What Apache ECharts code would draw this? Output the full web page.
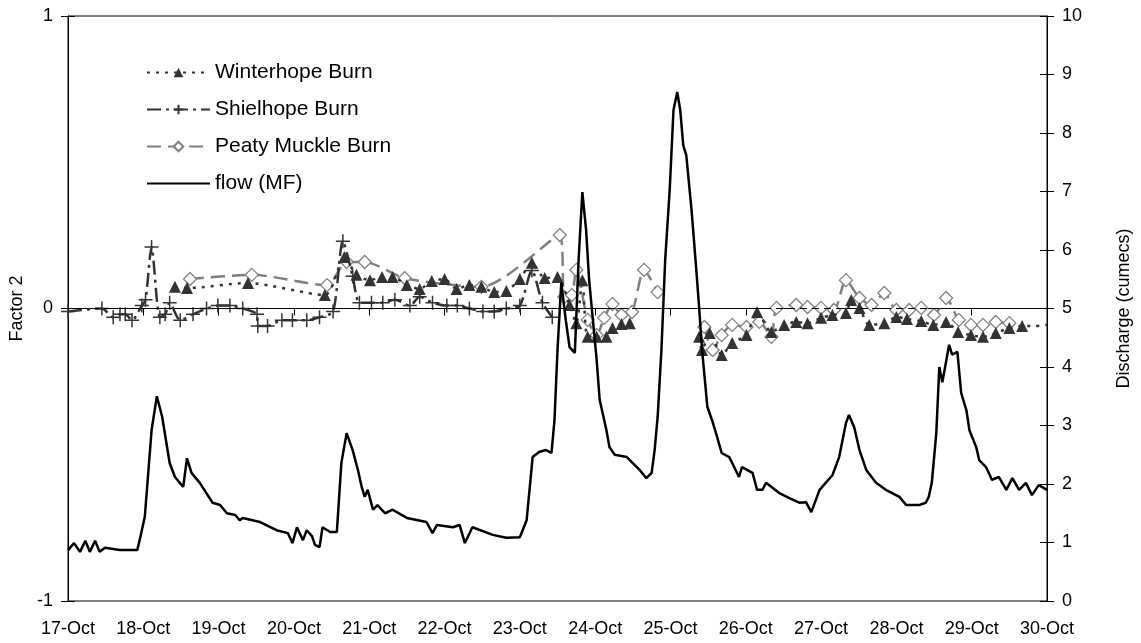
<!DOCTYPE html>
<html>
<head>
<meta charset="utf-8">
<script src="https://cdn.jsdelivr.net/npm/echarts@6/dist/echarts.min.js"></script>
<style>
html,body{margin:0;padding:0;background:#fff;}
#chart{width:1141px;height:643px;}
</style>
</head>
<body>
<div id="chart"></div>
<script>
// Tick labels
var xLabels = ['17-Oct','18-Oct','19-Oct','20-Oct','21-Oct','22-Oct','23-Oct','24-Oct','25-Oct','26-Oct','27-Oct','28-Oct','29-Oct','30-Oct'];

// Time in days since 17-Oct 00:00; null = gap in the line
var winterDays = [1.42,1.58,2.39,3.41,3.67,3.83,4.01,4.17,4.31,4.50,4.67,4.83,5.00,5.16,5.33,5.49,5.66,5.82,6.00,6.16,6.33,6.50,6.66,6.75,6.83,6.90,7.02,7.15,7.23,7.35,7.46,8.00,8.38,8.42,8.52,8.68,8.82,9.01,9.15,9.34,9.51,9.67,9.82,10.00,10.15,10.33,10.40,10.51,10.64,10.84,11.00,11.14,11.33,11.49,11.66,11.82,11.99,12.15,12.32,12.50,12.67,12.83,13.00];
var winterVals = [0.074,0.070,0.087,0.046,0.176,0.115,0.097,0.108,0.108,0.080,0.067,0.094,0.101,0.067,0.080,0.074,0.056,0.060,0.101,0.156,0.104,0.108,0.012,-0.050,0.097,-0.097,-0.097,-0.097,-0.067,-0.053,-0.050,null,-0.097,-0.142,-0.084,-0.159,-0.118,-0.091,-0.012,-0.080,-0.056,-0.046,-0.050,-0.032,-0.022,-0.015,0.029,0.002,-0.056,-0.050,-0.029,-0.036,-0.043,-0.056,-0.046,-0.080,-0.091,-0.097,-0.084,-0.067,-0.060,-0.060,-0.056];
var winterMarked = 60; // points after this index are trend only (no marker)

var shielDays = [0.00,0.45,0.60,0.69,0.76,0.85,0.98,1.03,1.11,1.22,1.29,1.35,1.49,1.66,1.84,1.99,2.15,2.32,2.51,2.52,2.65,2.84,2.98,3.17,3.34,3.52,3.65,3.78,3.87,4.03,4.18,4.34,4.54,4.67,4.84,5.03,5.17,5.33,5.51,5.66,5.82,6.00,6.16,6.30,6.43];
var shielVals = [-0.01,0.00,-0.03,-0.02,-0.02,-0.04,0.01,0.03,0.21,-0.03,-0.02,0.02,-0.04,-0.02,0.00,0.01,0.01,0.00,-0.02,-0.06,-0.06,-0.04,-0.04,-0.04,-0.03,-0.01,0.23,0.11,0.02,0.02,0.02,0.03,0.01,0.04,0.02,0.01,0.01,0.00,-0.01,-0.01,0.00,0.01,0.13,0.02,-0.03];

var peatyDays = [1.62,2.44,3.44,3.70,3.94,4.47,5.49,6.53,6.59,6.69,6.75,6.90,7.02,7.12,7.23,7.35,7.49,7.65,7.83,8.10,8.45,8.56,8.68,8.82,9.01,9.18,9.34,9.41,9.67,9.82,10.00,10.17,10.33,10.51,10.67,10.84,11.00,11.17,11.33,11.50,11.66,11.83,11.99,12.15,12.32,12.50];
var peatyVals = [0.101,0.115,0.080,0.159,0.159,0.104,0.074,0.251,0.039,0.046,0.132,-0.039,-0.091,-0.032,0.015,-0.022,-0.012,0.132,0.056,null,-0.063,-0.142,-0.091,-0.056,-0.063,-0.046,-0.097,0.002,0.012,0.005,0.002,-0.005,0.097,0.036,0.012,0.053,-0.005,-0.005,0.002,-0.022,0.036,-0.039,-0.056,-0.056,-0.046,-0.050];

var flowDays = [0.00,0.08,0.16,0.23,0.29,0.36,0.42,0.49,0.69,0.92,0.96,1.02,1.11,1.18,1.25,1.35,1.42,1.53,1.58,1.64,1.75,1.92,2.02,2.11,2.22,2.28,2.32,2.55,2.77,2.92,2.98,3.04,3.12,3.17,3.24,3.28,3.34,3.38,3.48,3.57,3.63,3.70,3.78,3.85,3.90,3.94,3.98,4.05,4.11,4.21,4.31,4.50,4.76,4.84,4.90,5.11,5.20,5.27,5.37,5.64,5.82,6.00,6.09,6.17,6.26,6.35,6.42,6.46,6.50,6.55,6.61,6.66,6.73,6.78,6.83,6.88,6.92,7.02,7.06,7.15,7.19,7.26,7.42,7.59,7.68,7.75,7.79,7.83,7.88,7.93,7.99,8.04,8.09,8.13,8.17,8.21,8.28,8.34,8.38,8.42,8.49,8.56,8.62,8.68,8.78,8.82,8.91,8.95,9.09,9.15,9.22,9.27,9.44,9.58,9.71,9.80,9.87,9.98,10.15,10.24,10.33,10.37,10.44,10.51,10.60,10.73,10.86,11.04,11.13,11.30,11.39,11.43,11.47,11.53,11.57,11.61,11.66,11.70,11.74,11.81,11.86,11.93,11.97,12.06,12.10,12.19,12.27,12.36,12.46,12.54,12.63,12.72,12.80,12.89,13.00];
var flowVals = [0.87,0.99,0.84,1.03,0.84,1.03,0.84,0.91,0.87,0.87,1.09,1.44,2.92,3.50,3.15,2.36,2.12,1.95,2.44,2.19,2.02,1.68,1.64,1.50,1.47,1.38,1.42,1.35,1.21,1.16,0.99,1.26,1.04,1.21,1.11,0.96,0.92,1.26,1.18,1.18,2.36,2.87,2.58,2.24,1.95,1.78,1.90,1.56,1.64,1.50,1.56,1.42,1.35,1.16,1.30,1.26,1.30,0.99,1.26,1.13,1.08,1.09,1.38,2.46,2.55,2.58,2.53,3.09,4.29,5.44,4.80,4.34,4.24,5.83,6.99,6.34,5.49,4.12,3.44,2.92,2.63,2.50,2.46,2.24,2.10,2.19,2.58,3.15,4.29,5.83,7.03,8.39,8.70,8.39,7.79,7.62,6.68,5.71,5.03,4.29,3.32,3.06,2.80,2.53,2.46,2.36,2.12,2.29,2.19,1.90,1.90,2.02,1.85,1.76,1.68,1.69,1.52,1.90,2.15,2.46,3.04,3.18,2.97,2.58,2.24,2.02,1.90,1.78,1.64,1.64,1.68,1.78,2.02,2.87,4.00,3.74,4.09,4.38,4.21,4.26,3.56,3.26,2.92,2.63,2.41,2.29,2.07,2.12,1.90,2.10,1.90,2.02,1.81,1.98,1.90];

function pairs(d, v) { return d.map(function (x, i) { return [x, v[i] === null ? '-' : v[i]]; }); }

var winterData = winterDays.map(function (x, i) {
  var item = { value: [x, winterVals[i] === null ? '-' : winterVals[i]] };
  if (i > winterMarked) item.symbol = 'none';
  return item;
});

var plusPath = 'path://M0,7 L14,7 M7,0 L7,14';
var font = '"Liberation Sans", Arial, sans-serif';
var txt = { fontFamily: font, fontSize: 18, color: '#000' };

var chart = echarts.init(document.getElementById('chart'), null, { renderer: 'canvas' });
chart.setOption({
  animation: false,
  backgroundColor: '#ffffff',
  grid: { left: 68, right: 93, top: 16, bottom: 42, show: true, borderColor: '#000', borderWidth: 1, backgroundColor: 'transparent' },
  legend: {
    orient: 'vertical', left: 141, top: 57, itemGap: 16, itemWidth: 63, itemHeight: 12,
    textStyle: { fontFamily: font, fontSize: 21, color: '#000' },
    data: ['Winterhope Burn', 'Shielhope Burn', 'Peaty Muckle Burn',
      { name: 'flow (MF)', itemStyle: { opacity: 0 } }]
  },
  xAxis: {
    type: 'value', min: 0, max: 13, interval: 1,
    axisLine: { lineStyle: { color: '#000', width: 1 } },
    axisTick: { show: true, length: 7, lineStyle: { color: '#000' } },
    splitLine: { show: false },
    axisLabel: Object.assign({ margin: 19, formatter: function (v) { return xLabels[Math.round(v)] || ''; } }, txt)
  },
  yAxis: [
    {
      type: 'value', min: -1, max: 1, interval: 1, position: 'left',
      name: 'Factor 2', nameLocation: 'middle', nameGap: 37, nameRotate: 90,
      nameTextStyle: txt,
      axisLine: { show: true, lineStyle: { color: '#000' } },
      axisTick: { show: true, length: 7, lineStyle: { color: '#000' } },
      splitLine: { show: false },
      axisLabel: Object.assign({ margin: 15 }, txt)
    },
    {
      type: 'value', min: 0, max: 10, interval: 1, position: 'right',
      name: 'Discharge (cumecs)', nameLocation: 'middle', nameGap: 68, nameRotate: 90,
      nameTextStyle: txt,
      axisLine: { show: true, lineStyle: { color: '#000' } },
      axisTick: { show: true, length: 7, lineStyle: { color: '#000' } },
      splitLine: { show: false },
      axisLabel: Object.assign({ margin: 15 }, txt)
    },
    {
      type: 'value', min: -1, max: 1, interval: 1, position: 'left',
      axisLine: { show: false }, axisLabel: { show: false }, splitLine: { show: false },
      axisTick: { show: true, inside: true, length: 7, lineStyle: { color: '#000' } }
    },
    {
      type: 'value', min: 0, max: 10, interval: 1, position: 'right',
      axisLine: { show: false }, axisLabel: { show: false }, splitLine: { show: false },
      axisTick: { show: true, inside: true, length: 7, lineStyle: { color: '#000' } }
    }
  ],
  series: [
    {
      name: 'Winterhope Burn', type: 'line', yAxisIndex: 0, data: winterData,
      smooth: 0.25, symbol: 'triangle', symbolSize: 12, connectNulls: false,
      lineStyle: { color: '#333', width: 2.5, type: [3, 6] },
      itemStyle: { color: '#333' },
      markLine: {
        silent: true, symbol: 'none', label: { show: false },
        lineStyle: { color: '#000', width: 1, type: [7, 5] },
        data: [{ yAxis: 0 }]
      },
      z: 3
    },
    {
      name: 'Shielhope Burn', type: 'line', yAxisIndex: 0, data: pairs(shielDays, shielVals),
      smooth: 0.25, symbol: plusPath, symbolSize: 14,
      lineStyle: { color: '#333', width: 2.5, type: [14, 5, 3, 5] },
      itemStyle: { color: 'rgba(0,0,0,0)', borderColor: '#333', borderWidth: 1.5 },
      z: 3
    },
    {
      name: 'Peaty Muckle Burn', type: 'line', yAxisIndex: 0, data: pairs(peatyDays, peatyVals),
      smooth: 0.25, symbol: 'diamond', symbolSize: 13, connectNulls: false,
      lineStyle: { color: '#7f7f7f', width: 2.5, type: [14, 7] },
      itemStyle: { color: '#fff', borderColor: '#808080', borderWidth: 1.3 },
      z: 2
    },
    {
      name: 'flow (MF)', type: 'line', yAxisIndex: 1, data: pairs(flowDays, flowVals),
      symbol: 'none', showSymbol: false,
      lineStyle: { color: '#000', width: 2.5 },
      itemStyle: { color: '#000' },
      z: 4
    }
  ]
});
</script>
</body>
</html>
